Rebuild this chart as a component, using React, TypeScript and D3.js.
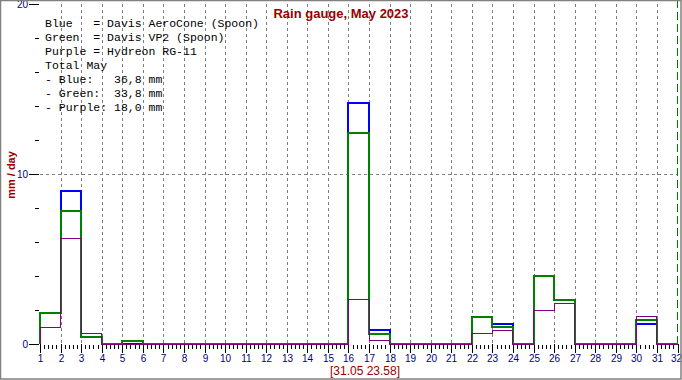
import React, { useEffect, useRef } from "react";
import * as d3 from "d3";

const days: number[] = d3.range(1, 32);
const blue: number[] = [1.8, 9.0, 0.4, 0, 0, 0, 0, 0, 0, 0, 0, 0, 0, 0, 0, 14.2, 0.8, 0, 0, 0, 0, 1.6, 1.2, 0, 4.0, 2.6, 0, 0, 0, 1.2, 0];
const green: number[] = [1.8, 7.8, 0.4, 0, 0.2, 0, 0, 0, 0, 0, 0, 0, 0, 0, 0, 12.4, 0.6, 0, 0, 0, 0, 1.6, 1.0, 0, 4.0, 2.6, 0, 0, 0, 1.4, 0];
const purple: number[] = [1.0, 6.2, 0.6, 0, 0, 0, 0, 0, 0, 0, 0, 0, 0, 0, 0, 2.6, 0.2, 0, 0, 0, 0, 0.6, 0.8, 0, 2.0, 2.4, 0, 0, 0, 1.6, 0];
const xTicks: number[] = d3.range(1, 33);
const yMajor: number[] = [0, 10, 20];
const yMinor: number[] = [2, 4, 6, 8, 12, 14, 16, 18];
const seriesNames: string[] = ["Blue", "Green", "Purple"];
const seriesDesc: string[] = ["Davis AeroCone (Spoon)", "Davis VP2 (Spoon)", "Hydreon RG-11"];
const title = "Rain gauge, May 2023";
const yLabel = "mm / day";
const stamp = "[31.05 23.58]";

export default function App() {
  const ref = useRef<SVGSVGElement>(null);
  useEffect(() => {
    document.body.style.margin = "0";
    const svg = d3.select(ref.current);
    svg.selectAll("*").remove();
    const W = 682, H = 380;
    const x = d3.scaleLinear().domain([1, 32]).range([40, 677.5]);
    const y = d3.scaleLinear().domain([0, 20]).range([344, 4]);
    const navy = "#000080";
    const red = "#990000";

    svg.append("rect").attr("x", 0).attr("y", 0).attr("width", W).attr("height", H).attr("fill", "#fff");

    // grid
    const g = svg.append("g").attr("shape-rendering", "crispEdges");
    d3.range(2, 32).forEach((d) => {
      g.append("line").attr("x1", Math.round(x(d)) + 0.5).attr("x2", Math.round(x(d)) + 0.5)
        .attr("y1", y(20)).attr("y2", y(0)).attr("stroke", "#808080").attr("stroke-dasharray", "3,3");
    });
    g.append("line").attr("x1", x(1)).attr("x2", x(32)).attr("y1", Math.round(y(10)) + 0.5).attr("y2", Math.round(y(10)) + 0.5)
      .attr("stroke", "#808080").attr("stroke-dasharray", "3,3");
    // now line
    g.append("line").attr("x1", x(32) - 0.5).attr("x2", x(32) - 0.5).attr("y1", 0).attr("y2", y(0))
      .attr("stroke", "#008000").attr("stroke-width", 1).attr("stroke-dasharray", "8,4");

    // y axis ticks
    yMajor.forEach((v) => {
      const yy = Math.round(y(v)) + 0.5;
      g.append("line").attr("x1", 29).attr("x2", 39).attr("y1", yy).attr("y2", yy).attr("stroke", "#000");
      svg.append("text").attr("x", 28).attr("y", yy + 3.5).attr("text-anchor", "end")
        .attr("font-family", "Liberation Sans, Arial, sans-serif").attr("font-size", 10).attr("fill", navy).text(String(v));
    });
    yMinor.forEach((v) => {
      const yy = Math.round(y(v)) + 0.5;
      g.append("line").attr("x1", 35).attr("x2", 39).attr("y1", yy).attr("y2", yy).attr("stroke", "#000");
    });

    // x axis ticks
    xTicks.forEach((d) => {
      const xx = Math.round(x(d)) + 0.5;
      g.append("line").attr("x1", xx).attr("x2", xx).attr("y1", 344).attr("y2", 353).attr("stroke", "#000");
      svg.append("text").attr("x", d === 32 ? xx - 2 : xx).attr("y", 362).attr("text-anchor", "middle")
        .attr("font-family", "Liberation Sans, Arial, sans-serif").attr("font-size", 10).attr("fill", navy).text(String(d));
      if (d < 32) {
        for (let k = 1; k < 5; k++) {
          const mx = Math.round(x(d + k / 5)) + 0.5;
          g.append("line").attr("x1", mx).attr("x2", mx).attr("y1", 345).attr("y2", 349).attr("stroke", "#000");
        }
      }
    });

    // series step lines
    const line = d3.line<[number, number]>().x((p) => x(p[0])).y((p) => y(p[1])).curve(d3.curveStepAfter);
    const mk = (vals: number[]): [number, number][] => {
      const pts: [number, number][] = [[1, 0]];
      days.forEach((d, i) => pts.push([d, vals[i]]));
      pts.push([32, 0]);
      return pts;
    };
    const series: [number[], string, number][] = [[blue, "#0000ff", 2], [green, "#008000", 2], [purple, "#800080", 1]];
    series.forEach(([vals, col, w]) => {
      svg.append("path").attr("d", line(mk(vals)) as string).attr("fill", "none").attr("stroke", col)
        .attr("stroke-width", w).attr("shape-rendering", "crispEdges");
    });

    // legend
    const totals = [blue, green, purple].map((s) => d3.sum(s).toFixed(1).replace(".", ","));
    const lines: string[] = [];
    seriesNames.forEach((n, i) => lines.push(n.padEnd(7, " ") + "= " + seriesDesc[i]));
    lines.push("Total May");
    seriesNames.forEach((n, i) => lines.push(("- " + n + ":").padEnd(10, " ") + totals[i].padStart(4, " ") + " mm"));
    lines.forEach((t, i) => {
      svg.append("text").attr("x", 45).attr("y", 27 + i * 14).attr("font-family", "Liberation Mono, Courier New, monospace")
        .attr("font-size", 11.5).attr("fill", "#000").style("white-space", "pre").text(t);
    });

    // title
    svg.append("text").attr("x", 341).attr("y", 18).attr("text-anchor", "middle")
      .attr("font-family", "Liberation Sans, Arial, sans-serif").attr("font-size", 13).attr("font-weight", "bold")
      .attr("fill", red).text(title);
    svg.append("text").attr("transform", "translate(15,175) rotate(-90)").attr("text-anchor", "middle")
      .attr("font-family", "Liberation Sans, Arial, sans-serif").attr("font-size", 11).attr("font-weight", "bold")
      .attr("fill", red).text(yLabel);
    svg.append("text").attr("x", 365).attr("y", 375).attr("text-anchor", "middle")
      .attr("font-family", "Liberation Sans, Arial, sans-serif").attr("font-size", 12)
      .attr("fill", red).text(stamp);

    // border
    svg.append("rect").attr("x", 0.5).attr("y", 0.5).attr("width", W - 1.5).attr("height", H - 1.5)
      .attr("fill", "none").attr("stroke", "#808080").attr("stroke-width", 1.5);
  }, []);
  return <svg ref={ref} width={682} height={380} style={{ display: "block" }} />;
}
